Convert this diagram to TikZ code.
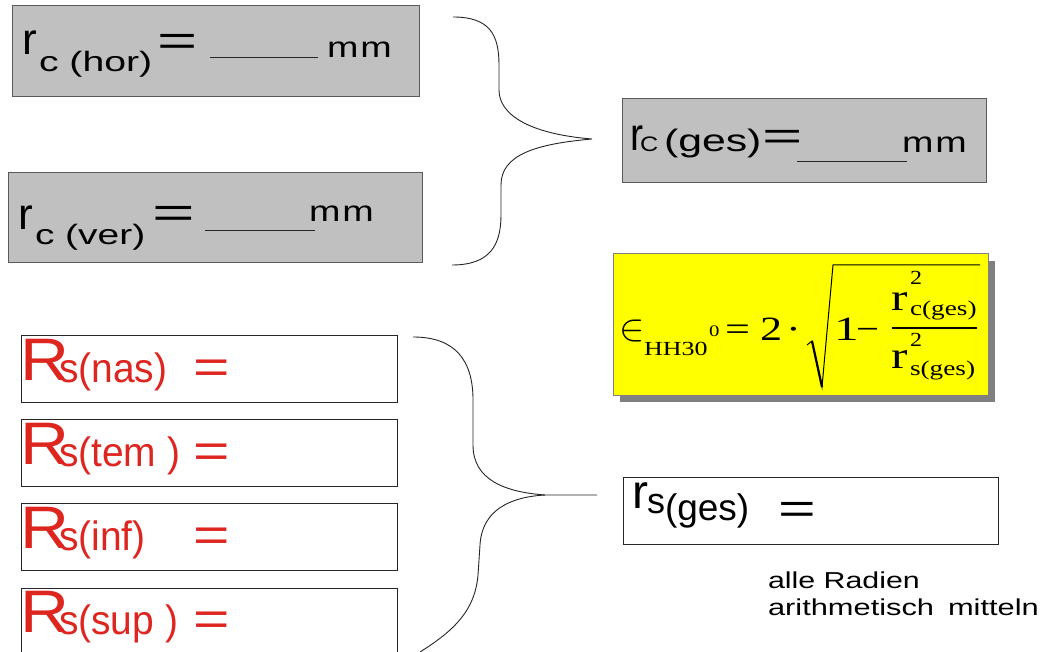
\documentclass[tikz,border=0pt]{standalone}
\usepackage{fontspec}
\usepackage{graphicx}
\setmainfont{Liberation Sans}
\newfontfamily\tms{Liberation Serif}
\definecolor{boxgray}{RGB}{192,192,192}
\definecolor{edgegray}{RGB}{90,90,90}
\definecolor{rsred}{RGB}{222,38,32}
\definecolor{shadegray}{RGB}{128,128,128}
\definecolor{formyellow}{RGB}{255,255,0}
\newcommand\fs[1]{\fontsize{#1}{#1}\selectfont}
\newcommand\hx[2]{\scalebox{#1}[1]{#2}}

\begin{document}
\begin{tikzpicture}[x=1pt,y=-1pt,
  t/.style={anchor=base west,inner sep=0pt,outer sep=0pt},
  panel/.style={inner sep=0pt,outer sep=0pt,line width=1pt},
  graybox/.style={panel,draw=edgegray,fill=boxgray},
  whitebox/.style={panel,draw=black!85,fill=white},
  formbox/.style={panel,draw=shadegray,fill=formyellow},
  bracket/.style={line width=0.9pt,black!85},
  blank/.style={line width=0.9pt,black!85},
  rsub/.style={t,text=rsred}]

\useasboundingbox (0,0) rectangle (1044,652);
\fill[white] (0,0) rectangle (1044,652);

% ---------- cornea radii ----------
\node[graybox,minimum width=407pt,minimum height=91pt] (hor) at (215.5,51.5) {};
\node[t] (horR) at (22,55) {\fs{44}r};
\node[t] (horS) at (39,72) {\fs{28}\hx{1.4}{c (hor)}};
\node[t] (horE) at (157,56) {\fs{43}\hx{1.6}{=}};
\coordinate (horL1) at (210,57);
\coordinate (horL2) at (318,57);
\draw[blank] (horL1) -- (horL2);
\node[t] (horM) at (327,58) {\fs{29}\hx{1.3}{m\kern1.5pt m}};

\node[graybox,minimum width=414pt,minimum height=90pt] (ver) at (215,218) {};
\node[t] (verR) at (19,230) {\fs{44}r};
\node[t] (verS) at (35,245) {\fs{28}\hx{1.39}{c (ver)}};
\node[t] (verE) at (152,228) {\fs{43}\hx{1.7}{=}};
\coordinate (verL1) at (205,230);
\coordinate (verL2) at (315,230);
\draw[blank] (verL1) -- (verL2);
\node[t] (verM) at (309,222) {\fs{29}\hx{1.3}{m\kern1.5pt m}};

\node[graybox,minimum width=364pt,minimum height=84pt] (cges) at (804,141) {};
\node[t] (cgR) at (630,151) {\fs{46}\hx{0.85}{r}};
\node[t] (cgC) at (640,152) {\fs{21}\hx{1.2}{C}};
\node[t] (cgS) at (664,152) {\fs{31}\hx{1.38}{(ges)}};
\node[t] (cgE) at (762,150) {\fs{39}\hx{1.77}{=}};
\coordinate (cgL1) at (797,161);
\coordinate (cgL2) at (907,161);
\draw[blank] (cgL1) -- (cgL2);
\node[t] (cgM) at (902,153) {\fs{29}\hx{1.3}{m\kern1.5pt m}};

% ---------- brace joining the two cornea radii ----------
\coordinate (b1top) at (453,17);
\coordinate (b1tip) at (592,139);
\coordinate (b1bot) at (452,265);
\draw[bracket] (b1top) .. controls (490,17) and (499,35) .. (499,65)
  -- (499,90) .. controls (499,115) and (530,134) .. (b1tip)
  .. controls (535,144) and (501,155) .. (501,185)
  -- (501,215) .. controls (501,245) and (490,265) .. (b1bot);

% ---------- formula ----------
\fill[shadegray] (620,261) rectangle (995,402);
\node[formbox,minimum width=375pt,minimum height=141pt] (form) at (800.5,324.5) {};
\node[t] (fin) at (619,340) {\scalebox{3.8}{$\in$}};
\node[t] (fHH) at (644,355) {\tms\fs{20}\hx{1.3}{HH30}};
\node[t] (fdeg) at (709,336) {\tms\fs{16}\hx{1.3}{0}};
\node[t] (feq) at (725,340) {\tms\fs{34}\hx{1.3}{=}};
\node[t] (ftwo) at (760,340) {\tms\fs{34}\hx{1.3}{2}};
\node[t] (fdot) at (786,340) {\tms\fs{34}\hx{1.3}{·}};
\coordinate (sq0) at (807,345);
\coordinate (sq1) at (812,341);
\coordinate (sq2) at (822,387);
\coordinate (sq3) at (833,265);
\coordinate (sq4) at (980,265);
\draw[line width=1pt,line join=miter] (sq0) -- (sq1) -- (sq2) -- (sq3) -- (sq4);
\draw[line width=2.2pt] (sq1) -- (sq2);
\node[t] (fone) at (834,340) {\tms\fs{34}\hx{1.45}{1}};
\node[t] (fminus) at (856,340) {\tms\fs{34}\hx{1.2}{−}};
\coordinate (fb1) at (892,328);
\coordinate (fb2) at (977,328);
\draw[line width=1.3pt] (fb1) -- (fb2);
\node[t] (fnr) at (891,310) {\tms\fs{38}\hx{1.3}{r}};
\node[t] (fn2) at (910,285) {\tms\fs{20}\hx{1.2}{2}};
\node[t] (fnc) at (910,316) {\tms\fs{21}\hx{1.3}{c(ges)}};
\node[t] (fdr) at (891,368) {\tms\fs{38}\hx{1.3}{r}};
\node[t] (fd2) at (910,346) {\tms\fs{20}\hx{1.2}{2}};
\node[t] (fds) at (910,375) {\tms\fs{21}\hx{1.3}{s(ges)}};

% ---------- sclera radii ----------
\foreach \nm/\sub/\cy/\by in {nas/s(nas)/368.5/380, tem/s(tem )/453/464, inf/s(inf)/536.5/548, sup/s(sup )/621.5/632}{
  \node[whitebox,minimum width=376pt,minimum height=67pt] (\nm) at (209,\cy) {};
  \node[rsub] (\nm R) at (20,\by) {\fs{60}\hx{1.13}{R}};
  \node[rsub] (\nm S) at (59,\by+2) {\fs{41}\hx{0.95}{\sub}};
  \node[rsub] (\nm E) at (193,\by+3) {\fs{48}\hx{1.3}{=}};
}

\node[whitebox,minimum width=375pt,minimum height=67pt] (sges) at (810.5,510.5) {};
\node[t] (sgR) at (632,508) {\fs{48}r};
\node[t] (sgS) at (647,513) {\fs{36}s};
\node[t] (sgP) at (665,520) {\fs{37}(ges)};
\node[t] (sgE) at (778,523) {\fs{43}\hx{1.5}{=}};

% ---------- brace joining the sclera radii ----------
\coordinate (b2top) at (413,337);
\coordinate (b2mid) at (545,495);
\coordinate (b2tip) at (597,495);
\coordinate (b2bot) at (420,652);
\draw[bracket] (b2top) .. controls (455,337) and (473,360) .. (473,400)
  -- (473,445) .. controls (473,480) and (505,492) .. (b2mid) -- (b2tip);
\draw[bracket] (b2mid) .. controls (510,497) and (482,510) .. (480,545)
  -- (478,575) .. controls (475,610) and (455,630) .. (b2bot);

% ---------- note ----------
\node[t] (note1) at (768,588) {\fs{23}\hx{1.32}{alle Radien}};
\node[t] (note2) at (768,615) {\fs{23}\hx{1.34}{arithmetisch\kern4pt\ mitteln}};
\end{tikzpicture}
\end{document}
